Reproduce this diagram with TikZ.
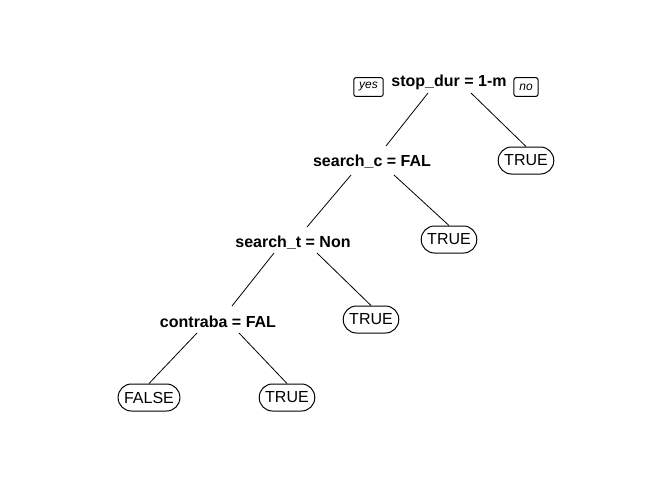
\documentclass[tikz,border=0pt]{standalone}
\usepackage{fontspec}
\setmainfont{Liberation Sans}
\usetikzlibrary{calc}
\begin{document}
\begin{tikzpicture}[x=0.75pt,y=-0.75pt,line width=0.75pt,
  splitnode/.style={inner sep=0pt,anchor=base,font=\fontsize{12}{14}\selectfont\bfseries},
  leafnode/.style={draw,rounded corners=10pt,minimum height=20.25pt,inner xsep=4.5pt,inner ysep=0pt,font=\fontsize{12}{14}\selectfont},
  yesno/.style={draw,rounded corners=1.5pt,minimum height=14pt,inner xsep=4pt,inner ysep=0pt,font=\fontsize{9}{11}\selectfont\itshape},
  edge/.style={draw,line width=0.6pt}]
\useasboundingbox (0,0) rectangle (672,480);
\node[splitnode] (root) at (449,86) {stop\_dur = 1-m};
\node[yesno] (yes) at (368.5,87) {yes};
\node[yesno] (no) at (526,87) {no};
\node[splitnode] (sc) at (372,166) {search\_c = FAL};
\node[leafnode] (l1) at (526,160.5) {TRUE};
\node[splitnode] (st) at (293,247) {search\_t = Non};
\node[leafnode] (l2) at (449,239.5) {TRUE};
\node[splitnode] (cb) at (218,327) {contraba = FAL};
\node[leafnode] (l3) at (371,319.5) {TRUE};
\node[leafnode] (l4) at (149,397.5) {FALSE};
\node[leafnode] (l5) at (287,397.5) {TRUE};
\draw[edge] ($(root.base)+(-21,7)$) -- ($(sc.base)+(14,-20)$);
\draw[edge] ($(root.base)+(22,7)$) -- (l1.north);
\draw[edge] ($(sc.base)+(-21,9)$) -- ($(st.base)+(14,-20)$);
\draw[edge] ($(sc.base)+(22,9)$) -- (l2.north);
\draw[edge] ($(st.base)+(-19,6)$) -- ($(cb.base)+(14,-21)$);
\draw[edge] ($(st.base)+(24,6)$) -- (l3.north);
\draw[edge] ($(cb.base)+(-21,6)$) -- (l4.north);
\draw[edge] ($(cb.base)+(21,6)$) -- (l5.north);
\end{tikzpicture}
\end{document}
